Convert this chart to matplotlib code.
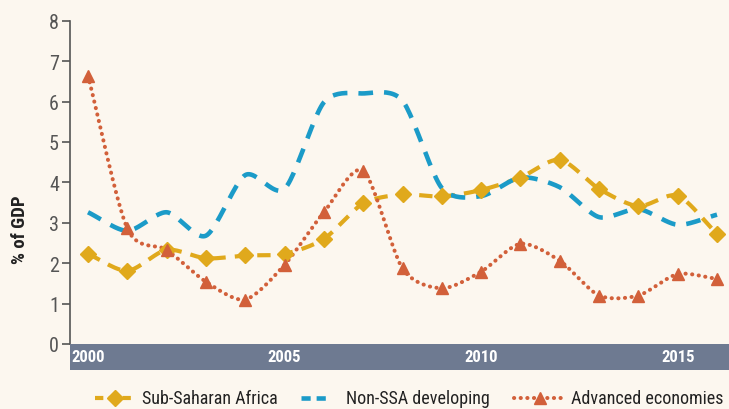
import numpy as np
import matplotlib
matplotlib.use("Agg")
import matplotlib.pyplot as plt
from matplotlib import font_manager as fm
from matplotlib.patches import Rectangle
from matplotlib.lines import Line2D

years = list(range(2000, 2017))
ssa = [2.23, 1.81, 2.33, 2.12, 2.19, 2.23, 2.60, 3.48, 3.70, 3.65, 3.81, 4.12, 4.56, 3.84, 3.41, 3.67, 2.72]
non_ssa = [3.26, 2.80, 3.26, 2.68, 4.18, 3.84, 5.98, 6.20, 6.02, 3.86, 3.66, 4.12, 3.88, 3.14, 3.34, 2.95, 3.20]
advanced = [6.64, 2.86, 2.33, 1.54, 1.10, 1.96, 3.26, 4.29, 1.87, 1.38, 1.79, 2.48, 2.06, 1.20, 1.20, 1.73, 1.61]
xtick_years = [2000, 2005, 2010, 2015]
yticks = list(range(0, 9))
labels = ["Sub-Saharan Africa", "Non-SSA developing", "Advanced economies"]

# pick a condensed font if available
cands = {}
for f in fm.fontManager.ttflist:
    nm = f.name
    if ('Narrow' in nm or 'Condensed' in nm or f.stretch in ('condensed', 'semi-condensed', 'extra-condensed')):
        cands.setdefault(nm, []).append(f)
font_name = None
stretch = 'normal'
for pref in ['Liberation Sans Narrow', 'Roboto Condensed', 'Open Sans Condensed', 'DejaVu Sans Condensed', 'Noto Sans Condensed']:
    if pref in cands:
        font_name = pref
        break
if font_name is None:
    for nm, fl in cands.items():
        font_name = nm
        stretch = fl[0].stretch
        break
if font_name is None:
    font_name = 'DejaVu Sans'
    scale = 0.85
else:
    scale = 1.0
plt.rcParams['font.family'] = [font_name, 'DejaVu Sans']
plt.rcParams['font.stretch'] = stretch

def smooth(x, y, n=24, c=0.8):
    x = np.asarray(x, float); y = np.asarray(y, float)
    N = len(x)
    mx = np.zeros(N); my = np.zeros(N)
    for i in range(N):
        a = max(i-1, 0); b = min(i+1, N-1)
        mx[i] = c*(x[b]-x[a])/(b-a)
        my[i] = c*(y[b]-y[a])/(b-a)
    t = np.linspace(0, 1, n, endpoint=False)
    h00 = 2*t**3-3*t**2+1; h10 = t**3-2*t**2+t; h01 = -2*t**3+3*t**2; h11 = t**3-t**2
    xs, ys = [], []
    for i in range(N-1):
        xs.extend(h00*x[i] + h10*mx[i] + h01*x[i+1] + h11*mx[i+1])
        ys.extend(h00*y[i] + h10*my[i] + h01*y[i+1] + h11*my[i+1])
    xs.append(x[-1]); ys.append(y[-1])
    return np.array(xs), np.array(ys)

BG = '#fcf7ef'
W, H = 729, 410
fig = plt.figure(figsize=(7.29, 4.10), dpi=100, facecolor=BG)
ax = fig.add_axes([70/W, 65/H, 659/W, (345-21.7)/H])
ax.set_facecolor(BG)

c_ssa, c_non, c_adv = '#e0a91c', '#1b9bc8', '#d2603a'
ssa_dash = (3.2, 2.2)
non_dash = (3.2, 2.4)
adv_dash = (0.05, 1.6)

sx, sy = smooth(years, ssa)
ax.plot(sx, sy, color=c_ssa, lw=3, dashes=ssa_dash, zorder=3)
ax.plot(years, ssa, ls='none', marker='D', ms=8.5, color=c_ssa, zorder=4)

nx, ny = smooth(years, non_ssa)
ax.plot(nx, ny, color=c_non, lw=3.3, dashes=non_dash, zorder=3)

axx, ayy = smooth(years, advanced)
ax.plot(axx, ayy, color=c_adv, lw=2.9, dashes=adv_dash, dash_capstyle='round', zorder=3)
ax.plot(years, advanced, ls='none', marker='^', ms=8, color=c_adv, zorder=4)

ax.set_xlim(2000 - 18/39.3, 2016 + 12/39.3)
ax.set_ylim(0, 8)
for s in ['top', 'right', 'bottom']:
    ax.spines[s].set_visible(False)
ax.spines['left'].set_color('#555555')
ax.spines['left'].set_linewidth(1.2)
ax.set_yticks(yticks)
ax.tick_params(axis='y', colors='#555555', labelsize=14.5*scale, length=6, width=1.2, pad=2)
ax.set_xticks([])

bar = Rectangle((70/W, (H-371)/H), 659/W, 26/H, transform=fig.transFigure,
                facecolor='#6e7a91', edgecolor='none', zorder=5)
fig.patches.append(bar)
for yr in xtick_years:
    xd = ax.transData.transform((yr, 0))[0]
    xf = fig.transFigure.inverted().transform((xd, 0))[0]
    fig.text(xf, (H-358)/H, str(yr), color='white', fontsize=12*scale, fontweight='bold',
             ha='center', va='center', zorder=6)

fig.text(20/W, 180/H, '% of GDP', rotation=90, fontsize=13.5*scale, fontweight='bold',
         ha='center', va='center', color='#222222')

# manual legend
ly = (H-399)/H
items = [
    (95, 135, 142, c_ssa, 3, (2.0, 1.3), 'butt', 'D', 8),
    (301, 330, 346, c_non, 3.3, (2.0, 1.3), 'butt', None, 0),
    (514, 565, 571, c_adv, 2.9, (0.05, 1.6), 'round', '^', 8),
]
for (x0, x1, xt, col, lw, ds, cap, mk, ms), lab in zip(items, labels):
    fig.add_artist(Line2D([x0/W, x1/W], [ly, ly], transform=fig.transFigure, color=col, lw=lw,
                          dashes=ds, dash_capstyle=cap))
    if mk:
        fig.add_artist(Line2D([(x0+x1)/2/W], [ly], transform=fig.transFigure, color=col, marker=mk, ms=ms, ls='none'))
    fig.text(xt/W, ly, lab, fontsize=13*scale, color='#222222', ha='left', va='center')

fig.savefig('out.png', dpi=100, facecolor=BG)
